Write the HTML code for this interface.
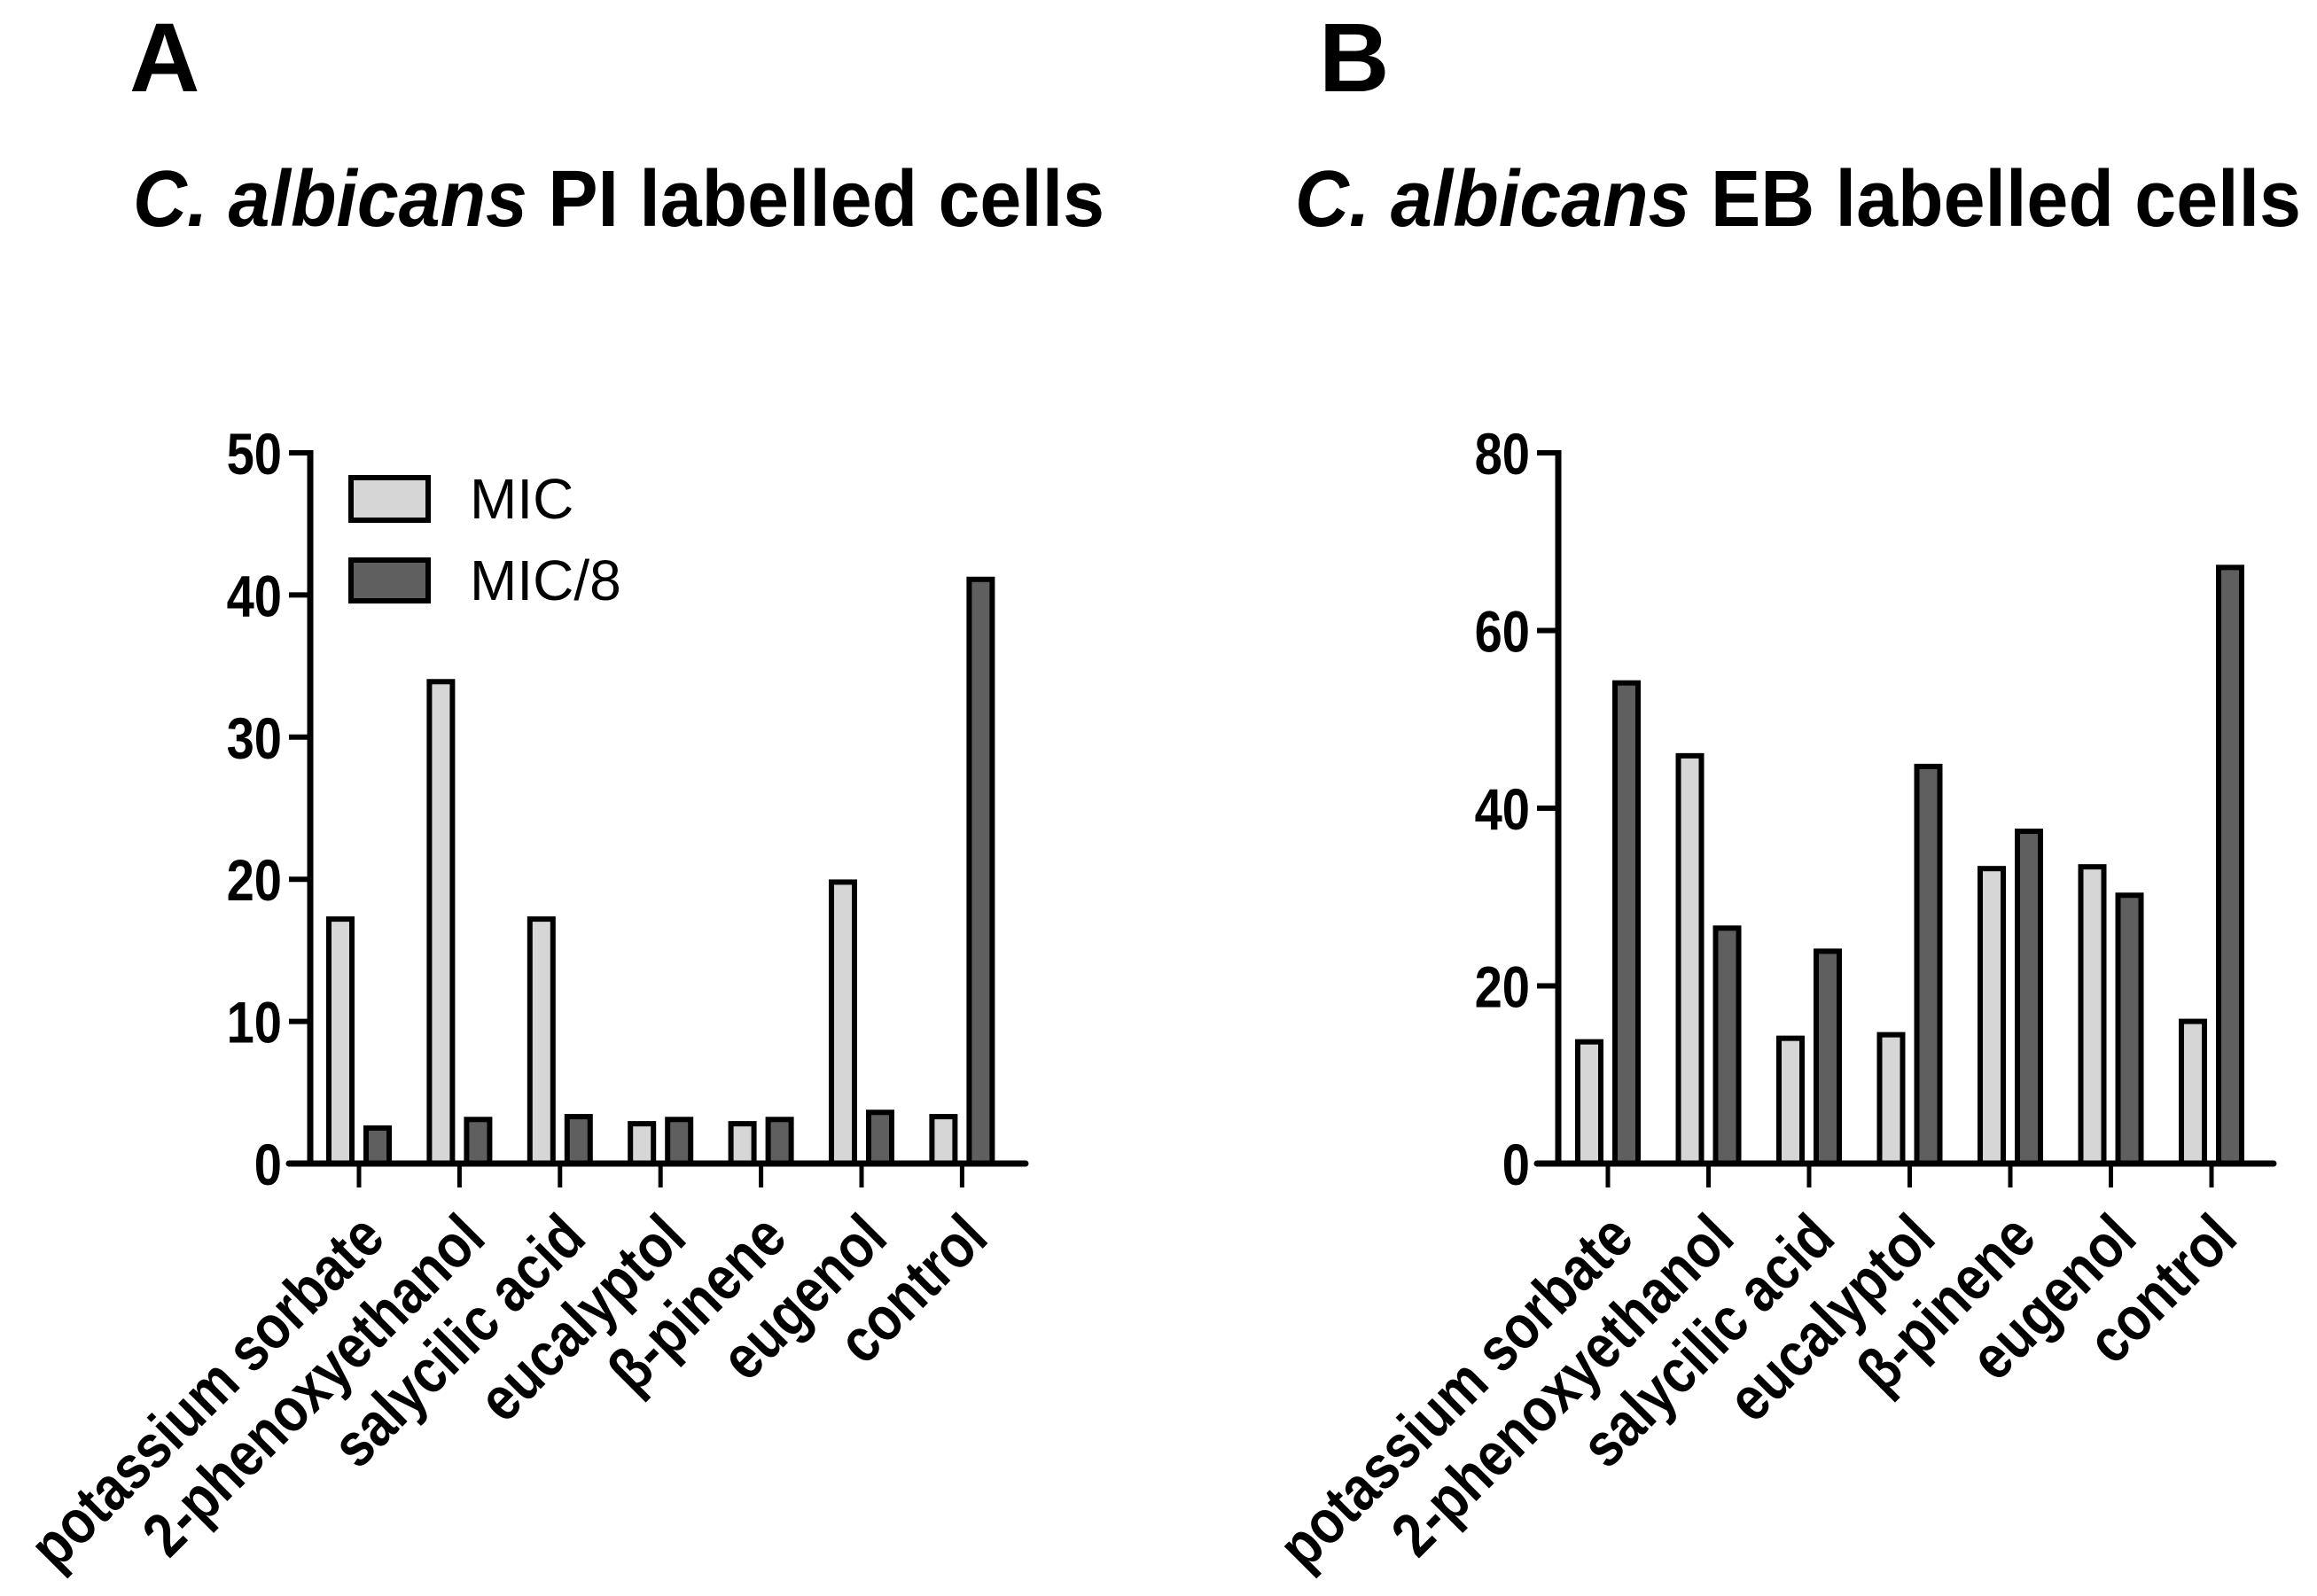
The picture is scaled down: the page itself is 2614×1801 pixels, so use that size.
<!DOCTYPE html>
<html><head><meta charset="utf-8"><style>
html,body{margin:0;padding:0;background:#fff;}
svg{display:block;font-family:"Liberation Sans",Arial,sans-serif;}
</style></head><body>
<svg id="fig" width="2614" height="1801" viewBox="0 0 2614 1801" xmlns="http://www.w3.org/2000/svg">
<text x="146" y="103" font-size="110" font-weight="bold">A</text>
<text x="150" y="255" font-size="90" font-weight="bold" textLength="1096" lengthAdjust="spacingAndGlyphs"><tspan font-style="italic">C. albicans</tspan> PI labelled cells</text>
<text x="1488" y="103" font-size="110" font-weight="bold">B</text>
<text x="1461" y="255" font-size="90" font-weight="bold" textLength="1135" lengthAdjust="spacingAndGlyphs"><tspan font-style="italic">C. albicans</tspan> EB labelled cells</text>
<g id="chartA"></g>
<g id="chartB"></g>
<g>
<rect x="396" y="539" width="87" height="48" fill="#d6d6d6" stroke="#000" stroke-width="6"/>
<text x="530" y="585" font-size="64">MIC</text>
<rect x="396" y="632" width="87" height="46" fill="#5f5f5f" stroke="#000" stroke-width="6"/>
<text x="530" y="677" font-size="64">MIC/8</text>
</g>
</svg>
<script>
const categories = ["potassium sorbate","2-phenoxyethanol","salycilic acid","eucalyptol","\u03B2-pinene","eugenol","control"];
const aMIC = [17.2, 33.9, 17.2, 2.8, 2.8, 19.8, 3.3];
const aMIC8 = [2.5, 3.1, 3.3, 3.1, 3.1, 3.6, 41.1];
const aTicks = [0,10,20,30,40,50];
const bMIC = [13.7, 45.9, 14.1, 14.5, 33.2, 33.4, 16.0];
const bMIC8 = [54.1, 26.5, 23.9, 44.7, 37.4, 30.2, 67.1];
const bTicks = [0,20,40,60,80];

const NS = "http://www.w3.org/2000/svg";
function mk(tag, attrs, parent){const e=document.createElementNS(NS,tag);for(const k in attrs)e.setAttribute(k,attrs[k]);parent.appendChild(e);return e;}

function drawChart(g, axX, axEnd, firstTick, spacing, yMax, ticks, s1, s2, prefix){
  const y0=1313, yTop=511;
  const yS=v=>y0-(v/yMax)*(y0-yTop);
  const xS=i=>firstTick+i*spacing;
  for(let i=0;i<categories.length;i++){
    const cx=xS(i);
    const r1=mk('rect',{x:cx-34,y:yS(s1[i]),width:26,height:y0-yS(s1[i]),fill:'#d6d6d6',stroke:'#000','stroke-width':6},g);
    
    
    const r2=mk('rect',{x:cx+8,y:yS(s2[i]),width:26,height:y0-yS(s2[i]),fill:'#5f5f5f',stroke:'#000','stroke-width':6},g);
    
    
    const tk=mk('line',{x1:cx,x2:cx,y1:y0,y2:y0+27,stroke:'#000','stroke-width':5},g);
    
    
    const lb=mk('text',{x:0,y:0,'font-size':70,'font-weight':'bold','text-anchor':'end',transform:`translate(${cx+32},${1400}) rotate(-45) scale(0.85,1)`},g);
    lb.textContent=categories[i];
    
    
  }
  const ya=mk('line',{x1:axX,x2:axX,y1:yTop-3,y2:y0+3,stroke:'#000','stroke-width':7},g);
  
  
  const xa=mk('line',{x1:axX-24,x2:axEnd,y1:y0,y2:y0,stroke:'#000','stroke-width':7,'stroke-linecap':'round'},g);
  
  
  ticks.forEach(t=>{
    const y=yS(t);
    const l=mk('line',{x1:axX-24,x2:axX,y1:y,y2:y,stroke:'#000','stroke-width':6},g);
    
    
    const tx=mk('text',{x:0,y:0,'font-size':66,'font-weight':'bold','text-anchor':'end',transform:`translate(${axX-32},${y+24}) scale(0.85,1)`},g);
    tx.textContent=t;
    
    
  });
}
drawChart(document.getElementById('chartA'),350,1157,405,113.4,50,aTicks,aMIC,aMIC8,'a-');
drawChart(document.getElementById('chartB'),1758,2565,1814,113.5,80,bTicks,bMIC,bMIC8,'b-');
</script>
</body></html>
